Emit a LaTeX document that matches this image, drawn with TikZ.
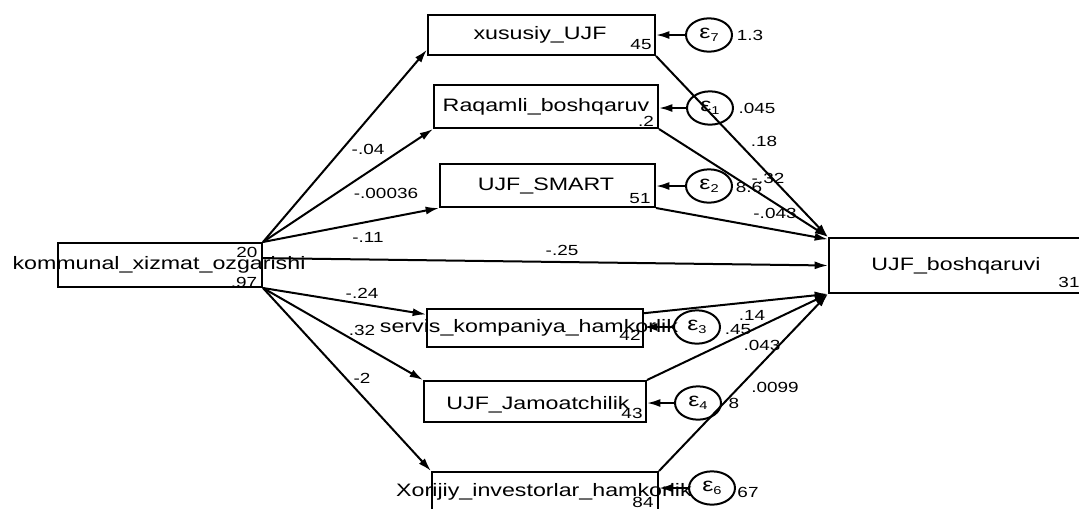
\documentclass[tikz,border=0pt]{standalone}
\usepackage{fontspec}
\setmainfont{Liberation Sans}[FakeStretch=1.29]
\usetikzlibrary{arrows.meta,calc,shapes.geometric}
\begin{document}
\begin{tikzpicture}[x=0.75pt,y=-0.75pt,
  box/.style={draw,line width=1.5pt,inner sep=0pt},
  err/.style={draw,ellipse,line width=1.5pt,inner sep=0pt,minimum width=34.5pt,minimum height=25pt,font=\fontsize{14.5}{15}\selectfont},
  btxt/.style={inner sep=0pt,font=\fontsize{13.5}{15}\selectfont},
  lab/.style={inner sep=0pt,font=\fontsize{11}{12}\selectfont},
  arr/.style={line width=1.5pt,-{Latex[length=10pt,width=6pt]}}]
\useasboundingbox (0,0) rectangle (1079,508);
% boxes
\node[box,minimum width=153pt,minimum height=33pt] (src) at (160,265) {};
\node[box,minimum width=170.25pt,minimum height=30pt] (xus) at (541.5,35) {};
\node[box,minimum width=168pt,minimum height=32.25pt] (raq) at (546,106.5) {};
\node[box,minimum width=161.25pt,minimum height=32.25pt] (sma) at (547.5,185.5) {};
\node[box,minimum width=162pt,minimum height=28.5pt] (ser) at (535,328) {};
\node[box,minimum width=166.5pt,minimum height=30.75pt] (jam) at (535,401.5) {};
\node[box,minimum width=169.5pt,minimum height=32.25pt] (xor) at (545,493.5) {};
\node[box,minimum width=189.75pt,minimum height=41.25pt] (tgt) at (955.5,265.5) {};
% error terms
\node[err] (e7) at (709,35) {ε\raisebox{-2pt}{\fontsize{8.5}{9}\selectfont 7}};
\node[err] (e1) at (710,108) {ε\raisebox{-2pt}{\fontsize{8.5}{9}\selectfont 1}};
\node[err] (e2) at (709,186) {ε\raisebox{-2pt}{\fontsize{8.5}{9}\selectfont 2}};
\node[err] (e3) at (697,327) {ε\raisebox{-2pt}{\fontsize{8.5}{9}\selectfont 3}};
\node[err] (e4) at (698,403) {ε\raisebox{-2pt}{\fontsize{8.5}{9}\selectfont 4}};
\node[err] (e6) at (712,488) {ε\raisebox{-2pt}{\fontsize{8.5}{9}\selectfont 6}};
% connectors from source
\draw[arr] (src.north east) -- ($(xus.south west)!0.3!(xus.west)$);
\draw[arr] (src.north east) -- (raq.south west);
\draw[arr] (src.north east) -- (sma.south west);
\draw[arr] ($(src.north east)!0.35!(src.south east)$) -- (tgt.west);
\draw[arr] (src.south east) -- ($(ser.north west)!0.16!(ser.south west)$);
\draw[arr] (src.south east) -- (jam.north west);
\draw[arr] (src.south east) -- (xor.north west);
% connectors to target
\draw[arr] (xus.south east) -- (tgt.north west);
\draw[arr] (raq.south east) -- (tgt.north west);
\draw[arr] (sma.south east) -- ($(tgt.north west)!0.04!(tgt.south west)$);
\draw[arr] ($(ser.north east)!0.13!(ser.south east)$) -- (tgt.south west);
\draw[arr] (jam.north east) -- (tgt.south west);
\draw[arr] (xor.north east) -- (tgt.south west);
% error arrows
\draw[arr] (e7.west) -- (e7.west -| xus.east);
\draw[arr] (e1.west) -- (e1.west -| raq.east);
\draw[arr] (e2.west) -- (e2.west -| sma.east);
\draw[arr] (e3.west) -- (e3.west -| ser.east);
\draw[arr] (e4.west) -- (e4.west -| jam.east);
\draw[arr] (e6.west) -- (e6.west -| xor.east);
% box texts
\node[btxt] (tsrc) at (159,265) {kommunal\_xizmat\_ozgarishi};
\node[btxt] (txus) at (540,35) {xususiy\_UJF};
\node[btxt] (traq) at (546,107) {Raqamli\_boshqaruv};
\node[btxt] (tsma) at (546,186) {UJF\_SMART};
\node[btxt] (tser) at (529,328) {servis\_kompaniya\_hamkorlik};
\node[btxt] (tjam) at (538,405) {UJF\_Jamoatchilik};
\node[btxt] (txor) at (544,492) {Xorijiy\_investorlar\_hamkorlik};
\node[btxt] (ttgt) at (956,266) {UJF\_boshqaruvi};
% intercepts / variances
\node[lab] (l1) at (247,252) {20};
\node[lab] (l2) at (244,282) {.97};
\node[lab] (l3) at (641,45) {45};
\node[lab] (l4) at (646,121) {.2};
\node[lab] (l5) at (640,199) {51};
\node[lab] (l6) at (630,335) {42};
\node[lab] (l7) at (632,413) {43};
\node[lab] (l8) at (643,502) {84};
\node[lab] (l9) at (1069,282) {31};
\node[lab] (l10) at (750,35) {1.3};
\node[lab] (l11) at (757,108) {.045};
\node[lab] (l12) at (749,187) {8.6};
\node[lab] (l13) at (738,330) {.45};
\node[lab] (l14) at (734,403) {8};
\node[lab] (l15) at (748,492) {67};
% path coefficients
\node[lab] (c1) at (368,149) {-.04};
\node[lab] (c2) at (386,193) {-.00036};
\node[lab] (c3) at (368,237) {-.11};
\node[lab] (c4) at (562,250) {-.25};
\node[lab] (c5) at (362,293) {-.24};
\node[lab] (c6) at (362,330) {.32};
\node[lab] (c7) at (362,378) {-2};
\node[lab] (c8) at (764,141) {.18};
\node[lab] (c9) at (768,178) {-.32};
\node[lab] (c10) at (775,213) {-.043};
\node[lab] (c11) at (752,315) {.14};
\node[lab] (c12) at (762,345) {.043};
\node[lab] (c13) at (775,387) {.0099};
\end{tikzpicture}
\end{document}
